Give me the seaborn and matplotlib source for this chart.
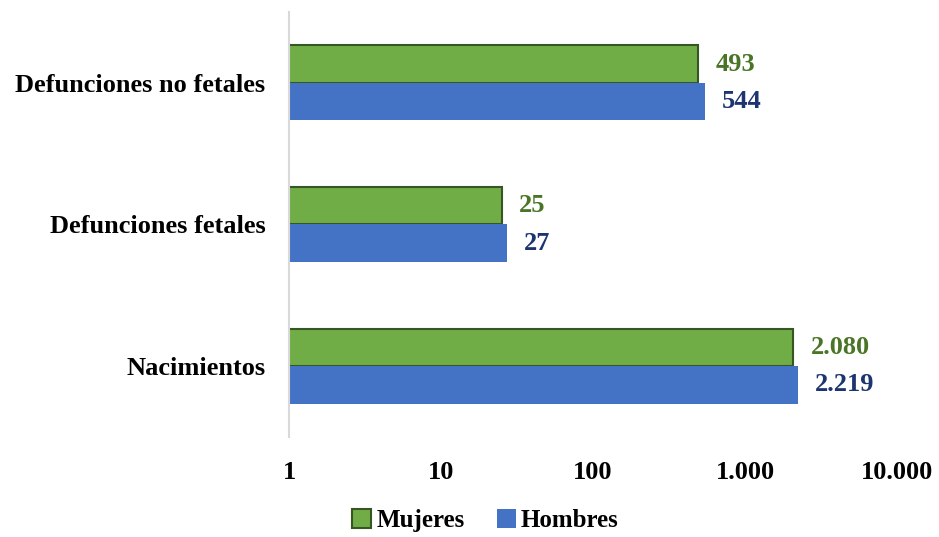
import pandas as pd
import numpy as np
import matplotlib
matplotlib.use('Agg')
import matplotlib.pyplot as plt
import seaborn as sns
from matplotlib.patches import Patch

# Data
categories = ['Defunciones no fetales', 'Defunciones fetales', 'Nacimientos']
mujeres = [493, 25, 2080]
hombres = [544, 27, 2219]
series = ['Mujeres', 'Hombres']
ticks = [1, 10, 100, 1000, 10000]
tick_labels = ['1', '10', '100', '1.000', '10.000']

green = '#70AD47'
green_edge = '#375623'
green_text = '#4A7526'
blue = '#4472C4'
blue_text = '#1C3470'

df = pd.DataFrame({
    'Categoria': categories * 2,
    'Serie': ['Mujeres'] * 3 + ['Hombres'] * 3,
    'Valor': mujeres + hombres,
})

sns.set_theme(style='white')
plt.rcParams['font.family'] = ['Liberation Serif', 'DejaVu Serif']
plt.rcParams['font.weight'] = 'bold'

fig = plt.figure(figsize=(9.39, 5.37), dpi=100)
ax = fig.add_axes([0.3078, 0.1862, 0.6475, 0.7915])

sns.barplot(
    data=df, x='Valor', y='Categoria', hue='Serie',
    hue_order=series, order=categories,
    palette=[green, blue], orient='h', width=0.53,
    legend=False, ax=ax, saturation=1,
)
ax.set_xscale('log')

# green bars get a dark outline
for cont, ec, lw in zip(ax.containers, [green_edge, 'none'], [1.5, 0]):
    for p in cont:
        p.set_edgecolor(ec)
        p.set_linewidth(lw)

ax.set_xlim(1, 10000)
ax.set_ylim(2.5, -0.5)
ax.set_xticks(ticks)
ax.set_xticklabels(tick_labels)
ax.minorticks_off()
ax.tick_params(axis='x', length=0, pad=17, labelsize=19)
ax.tick_params(axis='y', length=0, pad=17, labelsize=19)
for lab in ax.get_xticklabels() + ax.get_yticklabels():
    lab.set_fontweight('bold')
    lab.set_color('black')
ax.set_xlabel('')
ax.set_ylabel('')

for s in ['top', 'right', 'bottom']:
    ax.spines[s].set_visible(False)
ax.spines['left'].set_color('#D9D9D9')
ax.spines['left'].set_linewidth(1.5)

# value labels
offset = 1.3
for cont, vals, col in zip(ax.containers, [mujeres, hombres], [green_text, blue_text]):
    for bar, v in zip(cont, vals):
        y = bar.get_y() + bar.get_height() / 2
        ax.text(v * offset, y, f'{v:,}'.replace(',', '.'),
                ha='left', va='center', fontsize=19, fontweight='bold', color=col)

handles = [Patch(facecolor=green, edgecolor=green_edge, linewidth=1.5, label='Mujeres'),
           Patch(facecolor=blue, edgecolor='none', label='Hombres')]
leg = fig.legend(handles=handles, loc='lower center', bbox_to_anchor=(0.517, -0.033),
                 ncol=2, frameon=False, prop={'size': 18, 'weight': 'bold'},
                 handlelength=0.75, handleheight=0.75, handletextpad=0.2, columnspacing=1.3)
for t in leg.get_texts():
    t.set_color('black')

fig.savefig('out.png', dpi=100)
